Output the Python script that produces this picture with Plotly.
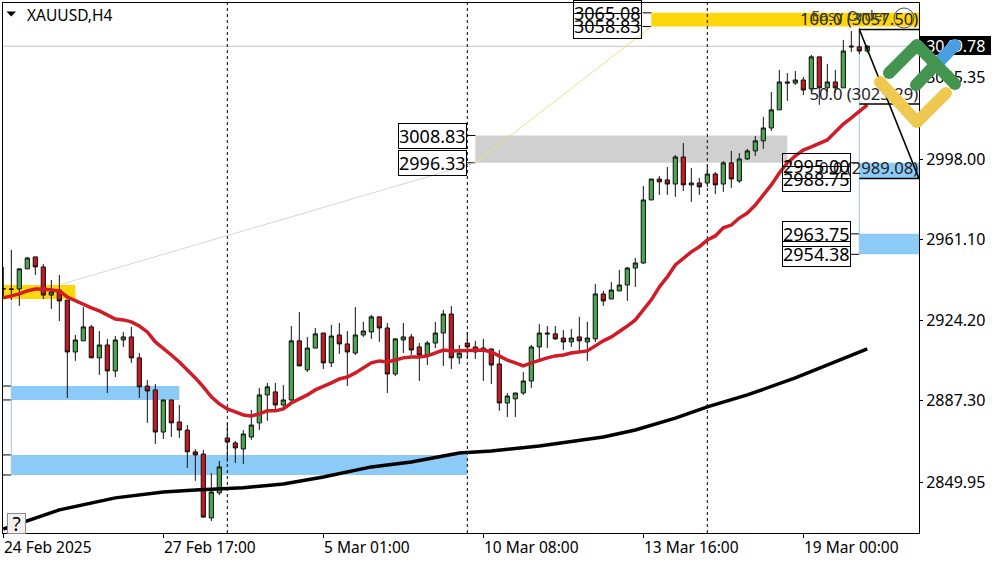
import plotly.graph_objects as go

FONT = "Noto Sans"

# velas H4
opens = [2938.5, 2938.5, 2938.5, 2947.7, 2953.2, 2948.6, 2935.7, 2938.0, 2933.4, 2909.6,
         2914.7, 2921.1, 2906.9, 2912.8, 2900.9, 2915.1, 2916.5, 2906.9, 2894.0, 2892.2,
         2872.9, 2887.6, 2877.5, 2873.8, 2863.8, 2862.8, 2833.5, 2845.0, 2870.2, 2867.9,
         2865.1, 2870.6, 2877.1, 2889.9, 2891.3, 2885.3, 2887.6, 2914.7, 2901.4, 2911.4,
         2918.3, 2904.6, 2917.4, 2913.3, 2909.1, 2917.4, 2918.8, 2925.7, 2920.6, 2899.5,
         2915.1, 2916.5, 2911.9, 2908.2, 2913.7, 2918.3, 2927.0, 2906.9, 2913.7, 2911.9,
         2911.4, 2911.0, 2904.1, 2886.2, 2888.1, 2890.8, 2896.3, 2911.9, 2918.3, 2917.9,
         2916.0, 2914.2, 2916.5, 2914.2, 2915.6, 2936.2, 2933.9, 2937.6, 2940.3, 2948.1,
         2950.4, 2979.3, 2988.9, 2988.5, 2986.6, 2999.0, 2986.2, 2987.1, 2987.1, 2991.2,
         2986.6, 2996.3, 2988.0, 2998.1, 3001.8, 3006.4, 3012.3, 3020.6, 3033.4, 3032.9,
         3034.3, 3030.2, 3044.9, 3030.7, 3033.4, 3030.7, 3049.9, 3049.5, 3047.6]
highs = [2948.6, 2956.4, 2947.7, 2953.2, 2953.2, 2950.0, 2942.6, 2944.9, 2933.4, 2917.4,
         2930.2, 2922.0, 2919.2, 2915.6, 2916.9, 2918.8, 2921.1, 2909.1, 2896.8, 2894.9,
         2887.6, 2887.6, 2885.3, 2876.1, 2865.1, 2864.7, 2854.1, 2859.6, 2877.1, 2868.8,
         2873.8, 2883.0, 2893.1, 2895.4, 2895.4, 2894.5, 2921.5, 2927.9, 2916.5, 2920.6,
         2918.3, 2922.0, 2922.9, 2919.2, 2930.2, 2923.4, 2926.6, 2925.7, 2922.9, 2916.0,
         2922.9, 2917.9, 2913.7, 2914.7, 2923.4, 2928.9, 2930.7, 2912.8, 2918.8, 2914.7,
         2915.6, 2911.0, 2910.5, 2890.8, 2890.8, 2900.4, 2912.8, 2922.4, 2921.5, 2921.5,
         2919.7, 2920.2, 2925.7, 2923.4, 2940.8, 2937.6, 2941.7, 2947.2, 2948.6, 2952.7,
         2985.7, 2988.9, 2990.3, 2994.4, 2999.9, 3005.4, 2994.0, 2989.4, 2995.3, 2992.1,
         2997.2, 3001.8, 3000.8, 3002.7, 3008.6, 3017.4, 3028.8, 3038.9, 3037.5, 3038.4,
         3035.7, 3045.8, 3044.9, 3041.7, 3038.9, 3052.7, 3056.8, 3058.2, 3050.3]
lows = [2933.9, 2933.5, 2930.7, 2947.7, 2944.9, 2933.9, 2929.3, 2923.8, 2888.5, 2905.5,
        2914.7, 2906.9, 2899.1, 2890.8, 2898.1, 2911.9, 2904.6, 2888.5, 2877.1, 2867.4,
        2869.7, 2870.6, 2870.2, 2856.4, 2850.5, 2833.5, 2832.1, 2844.0, 2859.2, 2858.7,
        2858.3, 2869.3, 2873.8, 2878.0, 2883.0, 2883.9, 2886.7, 2903.2, 2900.4, 2911.4,
        2901.8, 2902.7, 2908.7, 2894.0, 2908.2, 2916.5, 2915.6, 2914.2, 2890.8, 2898.6,
        2909.1, 2908.2, 2896.3, 2903.6, 2911.4, 2903.2, 2901.8, 2904.1, 2906.4, 2906.4,
        2896.3, 2894.9, 2882.6, 2879.8, 2879.8, 2889.9, 2893.1, 2906.4, 2911.4, 2915.1,
        2910.5, 2911.9, 2909.6, 2905.5, 2914.2, 2930.7, 2933.9, 2937.6, 2933.0, 2939.4,
        2950.0, 2979.3, 2981.6, 2981.6, 2980.7, 2983.4, 2978.4, 2981.6, 2985.3, 2982.0,
        2983.0, 2984.8, 2987.1, 2997.6, 2999.5, 3002.7, 3010.9, 3020.6, 3024.7, 3032.0,
        3027.4, 3028.8, 3022.9, 3028.8, 3028.4, 3030.7, 3047.2, 3046.2, 3046.8]
closes = [2938.6, 2938.3, 2947.7, 2952.7, 2948.6, 2935.7, 2937.1, 2933.0, 2909.6, 2915.1,
          2921.1, 2906.9, 2912.8, 2900.9, 2915.1, 2916.5, 2906.9, 2893.6, 2891.7, 2872.9,
          2887.6, 2877.1, 2873.8, 2863.8, 2862.4, 2833.9, 2845.4, 2856.9, 2868.3, 2865.6,
          2872.0, 2876.1, 2889.9, 2893.6, 2885.3, 2887.6, 2914.7, 2903.2, 2911.4, 2917.9,
          2904.6, 2916.9, 2913.3, 2909.6, 2917.4, 2919.2, 2925.7, 2920.6, 2899.5, 2915.6,
          2916.5, 2910.5, 2908.2, 2913.7, 2918.3, 2927.0, 2906.9, 2909.1, 2911.9, 2909.6,
          2910.5, 2903.6, 2886.2, 2889.4, 2890.8, 2896.3, 2911.9, 2918.3, 2917.9, 2915.6,
          2914.2, 2916.0, 2914.7, 2916.0, 2936.2, 2933.0, 2938.0, 2940.3, 2948.1, 2950.4,
          2979.3, 2988.9, 2987.6, 2986.6, 2999.0, 2986.2, 2987.1, 2985.3, 2991.2, 2986.2,
          2996.3, 2988.9, 2998.1, 3001.8, 3006.4, 3012.3, 3020.6, 3033.4, 3032.9, 3034.3,
          3029.7, 3044.9, 3030.7, 3033.4, 3030.7, 3047.6, 3049.5, 3047.6, 3049.8]

# media movil roja, una por vela
ma_fast = [2934.4, 2935.3, 2936.2, 2937.6, 2938.5, 2938.5, 2938.0, 2937.6, 2934.8, 2933.0,
           2931.6, 2929.8, 2928.4, 2926.6, 2924.7, 2924.3, 2923.4, 2921.5, 2918.8, 2914.2,
           2911.4, 2908.2, 2905.0, 2901.4, 2897.7, 2893.6, 2889.0, 2885.8, 2883.5, 2882.1,
           2880.7, 2880.3, 2881.2, 2882.6, 2882.6, 2883.5, 2886.2, 2888.1, 2889.9, 2892.2,
           2893.6, 2895.4, 2897.2, 2898.1, 2900.0, 2902.3, 2904.6, 2905.5, 2905.0, 2905.9,
           2906.9, 2907.3, 2907.3, 2907.8, 2909.1, 2910.5, 2910.1, 2910.1, 2910.5, 2910.1,
           2910.5, 2909.6, 2907.8, 2905.9, 2904.6, 2903.2, 2904.6, 2905.9, 2906.9, 2907.8,
           2908.2, 2909.1, 2909.6, 2910.1, 2912.4, 2914.7, 2916.5, 2918.8, 2921.5, 2924.3,
           2928.9, 2933.5, 2939.4, 2944.0, 2949.5, 2952.7, 2955.5, 2957.8, 2961.0, 2962.8,
           2966.5, 2967.8, 2971.0, 2973.3, 2977.0, 2981.6, 2986.2, 2991.7, 2996.3, 2999.5,
           3002.2, 3003.6, 3005.4, 3006.8, 3010.5, 3014.1, 3016.9, 3020.1, 3022.9]

# media movil negra, leida solo en algunas velas
ma_slow_idx = [0, 3, 7, 14, 20, 24, 30, 35, 40, 46, 51, 57, 61, 67, 75, 79, 84, 88, 93, 99, 105, 108]
ma_slow = [2828.4, 2832.1, 2837.2, 2842.7, 2845.4, 2846.3, 2847.3, 2849.1, 2852.3, 2856.9, 2859.2,
           2863.3, 2864.2, 2866.5, 2870.6, 2873.8, 2879.3, 2884.4, 2889.9, 2897.7, 2906.4, 2911.0]

y_ticks = [3035.35, 2998.00, 2961.10, 2924.20, 2887.30, 2849.95]
x_tick_idx = [0, 20, 40, 60, 80, 100]
x_tick_labels = ["24 Feb 2025", "27 Feb 17:00", "5 Mar 01:00", "10 Mar 08:00", "13 Mar 16:00", "19 Mar 00:00"]
vlines_idx = [28, 58, 88]
bid = 3049.78

X_MIN, X_MAX = -0.04, 114.46
Y_MIN, Y_MAX = 2826.6, 3069.6

GREEN = "#4aa94f"
RED = "#c9161f"
GOLD = "#ffd60a"
BLUE = "#8ccbf7"
GRAY = "#d0d0d0"

# (arriba, abajo, vela inicio, vela fin, color)
zones = [
    (3065.08, 3058.83, 81, X_MAX, GOLD),
    (3008.83, 2996.33, 59, 98, GRAY),
    (2996.33, 2989.08, 107, X_MAX, BLUE),
    (2963.75, 2954.38, 107, X_MAX, BLUE),
    (2940.3, 2933.9, X_MIN, 9, GOLD),
    (2894.0, 2887.6, 1, 22, BLUE),
    (2862.4, 2853.2, 1, 58, BLUE),
]
# etiqueta con caja: (precio, vela donde termina la etiqueta)
price_tags = [(3065.08, 79.85), (3058.83, 79.85), (3008.83, 57.9), (2996.33, 57.9),
              (2995.00, 105.95), (2988.75, 105.95), (2963.75, 105.95), (2954.38, 105.95)]
fibs = [(3057.50, "100.0 (3057.50)"), (3023.29, "50.0 (3023.29)"), (2989.08, "0.0 (2989.08)")]


def px_x(px):
    return (px - 3) / 916


def px_y(py):
    return (533 - py) / 530


def main():
    x = list(range(len(opens)))
    fig = go.Figure()

    fig.add_trace(go.Candlestick(
        x=x, open=opens, high=highs, low=lows, close=closes,
        increasing=dict(fillcolor=GREEN, line=dict(color="#111111", width=1)),
        decreasing=dict(fillcolor=RED, line=dict(color="#111111", width=1)),
        whiskerwidth=0, hoverinfo="skip", showlegend=False))
    fig.add_trace(go.Scatter(x=ma_slow_idx, y=ma_slow, mode="lines", showlegend=False,
                             line=dict(color="#000000", width=3.5), hoverinfo="skip"))
    fig.add_trace(go.Scatter(x=x, y=ma_fast, mode="lines", showlegend=False,
                             line=dict(color="#d01c26", width=3.5), hoverinfo="skip"))

    # textos de fibonacci y del panel, como trazas para que el logo quede encima
    fig.add_trace(go.Scatter(
        x=[X_MAX - 0.1] * len(fibs), y=[f[0] for f in fibs], text=[f[1] for f in fibs],
        mode="text", textposition="top left", cliponaxis=False, showlegend=False, hoverinfo="skip",
        textfont=dict(family=FONT, size=16.6, color="#222222")))
    fig.add_trace(go.Scatter(
        x=[101], y=[3063.0], text=["Easy Order"], mode="text", textposition="middle right",
        showlegend=False, hoverinfo="skip", textfont=dict(family=FONT, size=15, color="#444444")))

    shapes = []
    # fondo de la etiqueta del precio actual
    shapes.append(dict(type="rect", xref="paper", yref="paper", layer="below", line_width=0,
                       fillcolor="#000000", x0=px_x(920), x1=px_x(991), y0=px_y(36), y1=px_y(55)))
    for top, bottom, start, end, color in zones:
        shapes.append(dict(type="rect", x0=start, x1=end, y0=bottom, y1=top, fillcolor=color,
                           line_width=0, layer="below"))
        if start > 0 and end != 9:
            shapes.append(dict(type="line", x0=start - 1.1, x1=start, y0=top, y1=top,
                               line=dict(color="#000000", width=1), layer="below"))
            if color != BLUE or top != 2996.33:
                shapes.append(dict(type="line", x0=start - 1.1, x1=start, y0=bottom, y1=bottom,
                                   line=dict(color="#000000", width=1), layer="below"))
    shapes.append(dict(type="line", x0=X_MIN, x1=X_MAX, y0=bid, y1=bid,
                       line=dict(color="#c4c4c4", width=1), layer="below"))
    for idx in vlines_idx:
        shapes.append(dict(type="line", x0=idx, x1=idx, y0=Y_MIN, y1=Y_MAX, layer="below",
                           line=dict(color="#000000", width=1, dash="3px,3px")))
    # verticales azul claro de las zonas
    shapes.append(dict(type="line", x0=1, x1=1, y0=2853.2, y1=2933.9, layer="below",
                       line=dict(color="#9cc6de", width=1)))
    shapes.append(dict(type="line", x0=107, x1=107, y0=2954.38, y1=3057.5, layer="below",
                       line=dict(color="#9cc6de", width=1)))
    # lineas finas que unen las zonas
    shapes.append(dict(type="line", x0=7.4, x1=59, y0=2940.8, y1=2996.33, layer="below",
                       line=dict(color="#d6d6d6", width=1)))
    shapes.append(dict(type="line", x0=59, x1=81, y0=2996.33, y1=3058.83, layer="below",
                       line=dict(color="#f2dc8c", width=1)))
    # niveles fibo
    for price, _ in fibs:
        shapes.append(dict(type="line", x0=107, x1=X_MAX, y0=price, y1=price,
                           line=dict(color="#000000", width=1.5)))
    shapes.append(dict(type="line", x0=107, x1=X_MAX, y0=3057.5, y1=2989.08,
                       line=dict(color="#000000", width=1.5)))

    # triangulo del titulo y circulo del panel
    shapes.append(dict(type="path", xref="paper", yref="paper", fillcolor="#000000", line_width=0,
                       path=f"M {px_x(6.5)} {px_y(11.5)} L {px_x(16)} {px_y(11.5)} L {px_x(11.2)} {px_y(16.5)} Z"))
    shapes.append(dict(type="circle", xref="paper", yref="paper", line=dict(color="#555555", width=1),
                       x0=px_x(894), x1=px_x(914), y0=px_y(8), y1=px_y(28)))

    # logo
    logo = [
        ("#4a9fe0", [(936, 65), (955, 45)]),
        ("#efc850", [(880, 82), (917, 122), (946, 93)]),
        ("#43944f", [(889, 73), (917, 45), (955, 84)]),
        ("#43944f", [(916, 85), (936, 64)]),
    ]
    for color, pts in logo:
        for (x0, y0), (x1, y1) in zip(pts[:-1], pts[1:]):
            shapes.append(dict(type="line", xref="paper", yref="paper", x0=px_x(x0), x1=px_x(x1),
                               y0=px_y(y0), y1=px_y(y1), line=dict(color=color, width=12)))
        for px, py in pts:
            shapes.append(dict(type="circle", xref="paper", yref="paper", fillcolor=color, line_width=0,
                               x0=px_x(px - 6), x1=px_x(px + 6), y0=px_y(py - 6), y1=px_y(py + 6)))

    annotations = []
    annotations.append(dict(xref="paper", yref="paper", x=px_x(25), y=px_y(15), text="XAUUSD,H4",
                            showarrow=False, xanchor="left", yanchor="middle",
                            font=dict(family=FONT, size=15.5, color="#000000")))
    for price, end in price_tags:
        annotations.append(dict(x=end, y=price, text=f"{price:.2f}", showarrow=False, xanchor="right",
                                yanchor="middle", bordercolor="#000000", borderwidth=1, borderpad=0,
                                font=dict(family=FONT, size=18, color="#000000")))
    for idx, label in zip(x_tick_idx, x_tick_labels):
        annotations.append(dict(x=idx, xref="x", yref="paper", y=px_y(547), text=label, showarrow=False,
                                xanchor="left", yanchor="middle", xshift=-1.5,
                                font=dict(family=FONT, size=15.5, color="#000000")))
    annotations.append(dict(xref="paper", yref="paper", x=px_x(16), y=px_y(523), text="?", showarrow=False,
                            xanchor="center", yanchor="middle", width=17, height=19, bgcolor="#f0f0f0",
                            bordercolor="#8a8a8a", borderwidth=1, borderpad=0,
                            font=dict(family=FONT, size=19, color="#000000")))

    fig.update_layout(
        width=1000, height=562, margin=dict(l=3, r=81, t=3, b=29),
        paper_bgcolor="white", plot_bgcolor="white", showlegend=False, boxgap=0.25,
        shapes=shapes, annotations=annotations,
        xaxis=dict(range=[X_MIN, X_MAX], rangeslider=dict(visible=False), showgrid=False, zeroline=False,
                   tickmode="array", tickvals=x_tick_idx, ticktext=[""] * len(x_tick_idx),
                   ticks="outside", ticklen=4, tickcolor="#000000",
                   showline=True, linecolor="#000000", linewidth=1, mirror=True),
        yaxis=dict(range=[Y_MIN, Y_MAX], side="right", showgrid=False, zeroline=False,
                   tickmode="array", tickvals=y_ticks + [bid],
                   ticktext=[f"{v:.2f}" for v in y_ticks] + [f"<span style='color:white'>{bid:.2f}</span>"],
                   ticks="outside", ticklen=3, tickcolor="#000000",
                   tickfont=dict(family=FONT, size=16, color="#000000"),
                   showline=True, linecolor="#000000", linewidth=1, mirror=True),
    )
    fig.write_html("out.html", config=dict(displayModeBar=False),
                   post_script="document.body.style.margin='0';")


if __name__ == "__main__":
    main()
